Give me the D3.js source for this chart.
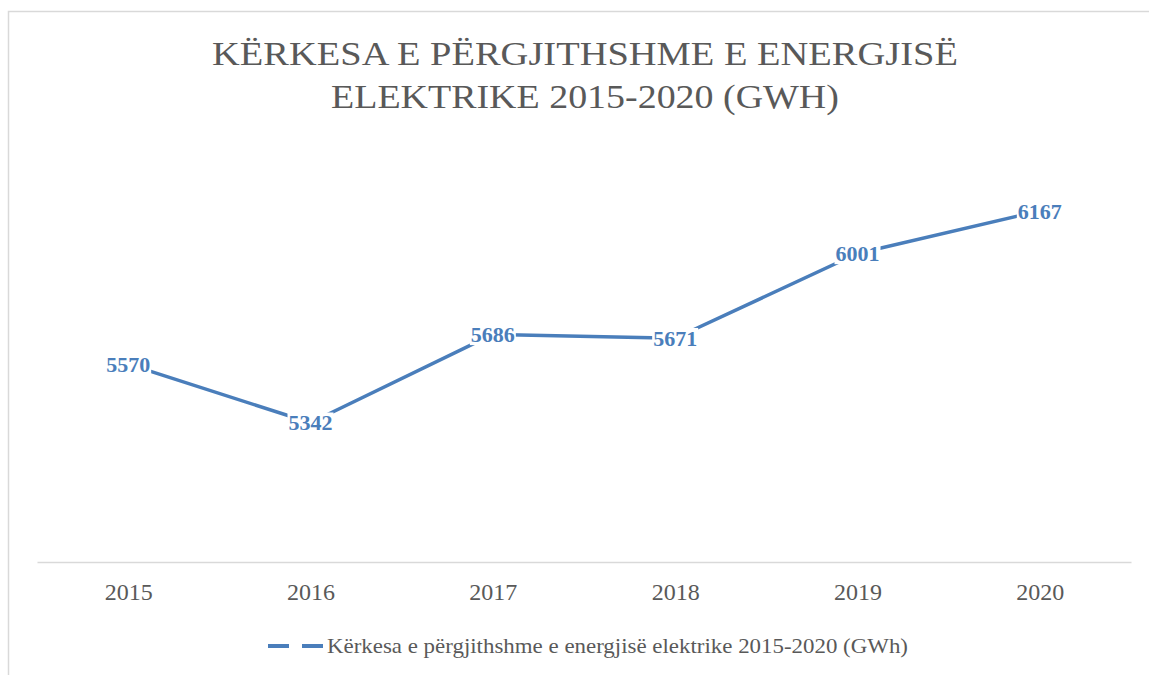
<!DOCTYPE html>
<html>
<head>
<meta charset="utf-8">
<script src="https://cdn.jsdelivr.net/npm/d3@7"></script>
<style>
  body { margin: 0; background: #fff; }
  svg { display: block; }
</style>
</head>
<body>
<div id="chart"></div>
<script>
// chart data
const years = ["2015", "2016", "2017", "2018", "2019", "2020"];
const demand = [5570, 5342, 5686, 5671, 6001, 6167];
const yDomain = [4800, 6400];
const titleLines = ["KËRKESA E PËRGJITHSHME E ENERGJISË", "ELEKTRIKE 2015-2020 (GWH)"];
const seriesName = "Kërkesa e përgjithshme e energjisë elektrike 2015-2020 (GWh)";

const W = 1149, H = 675;
const blue = "#4a7ebb";
const grey = "#595959";
const serif = "Liberation Serif, DejaVu Serif, serif";

const svg = d3.select("#chart").append("svg")
    .attr("width", W)
    .attr("height", H);

// squeeze a text horizontally to a given width, keeping the font
function fitWidth(sel, cx, w) {
    sel.each(function (d, i) {
        const tw = typeof w === "function" ? w(d, i) : w;
        const sx = tw / this.getComputedTextLength();
        d3.select(this)
            .attr("x", 0)
            .attr("transform", `translate(${cx},0) scale(${sx},1)`);
    });
}

// chart frame (right and bottom edges fall off the picture)
svg.append("rect")
    .attr("x", 8.5).attr("y", 11.5)
    .attr("width", 1160).attr("height", 700)
    .attr("fill", "#fff")
    .attr("stroke", "#d9d9d9")
    .attr("stroke-width", 1.5);

// title
const titleW = [746, 508];
svg.selectAll(".title")
    .data(titleLines)
    .enter().append("text")
    .attr("class", "title")
    .attr("y", (d, i) => 65 + i * 43)
    .attr("text-anchor", "middle")
    .style("font-family", serif)
    .attr("font-size", 34)
    .attr("fill", grey)
    .text(d => d)
    .call(fitWidth, 585, (d, i) => titleW[i]);

// scales
const x = d3.scalePoint()
    .domain(years)
    .range([37, 1131])
    .padding(0.5);

const y = d3.scaleLinear()
    .domain(yDomain)
    .range([562, 151]);

// x axis
const xAxis = d3.axisBottom(x).tickSize(0).tickPadding(0);
const xg = svg.append("g")
    .attr("transform", "translate(0,562)")
    .call(xAxis);
xg.select(".domain").attr("stroke", "#d9d9d9").attr("stroke-width", 1.5);
xg.selectAll(".tick text")
    .attr("y", 38)
    .attr("dy", 0)
    .style("font-family", serif)
    .attr("font-size", 24)
    .attr("fill", grey);

// the line
const data = years.map((yr, i) => ({ year: yr, value: demand[i] }));
const line = d3.line()
    .x(d => x(d.year))
    .y(d => y(d.value));

svg.append("path")
    .datum(data)
    .attr("d", line)
    .attr("fill", "none")
    .attr("stroke", blue)
    .attr("stroke-width", 3.5)
    .attr("stroke-linejoin", "round");

// data labels, centred on the points with a white box behind
const lbl = svg.selectAll(".lbl")
    .data(data)
    .enter().append("g")
    .attr("class", "lbl")
    .attr("transform", d => `translate(${x(d.year)},${y(d.value)})`);

lbl.append("rect").attr("fill", "#fff");
lbl.append("text")
    .attr("text-anchor", "middle")
    .attr("dy", "0.35em")
    .style("font-family", serif)
    .attr("font-size", 22)
    .attr("font-weight", "bold")
    .attr("fill", blue)
    .text(d => d.value);

lbl.each(function () {
    const g = d3.select(this);
    const bb = g.select("text").node().getBBox();
    g.select("rect")
        .attr("x", bb.x - 1).attr("y", bb.y + 2)
        .attr("width", bb.width + 2).attr("height", bb.height - 4);
});

// legend
svg.append("line")
    .attr("x1", 268).attr("x2", 323)
    .attr("y1", 646).attr("y2", 646)
    .attr("stroke", blue)
    .attr("stroke-width", 4)
    .attr("stroke-dasharray", "21,13");

svg.append("text")
    .attr("y", 653)
    .style("font-family", serif)
    .attr("font-size", 21)
    .attr("fill", grey)
    .text(seriesName)
    .call(fitWidth, 327, 581);
</script>
</body>
</html>
